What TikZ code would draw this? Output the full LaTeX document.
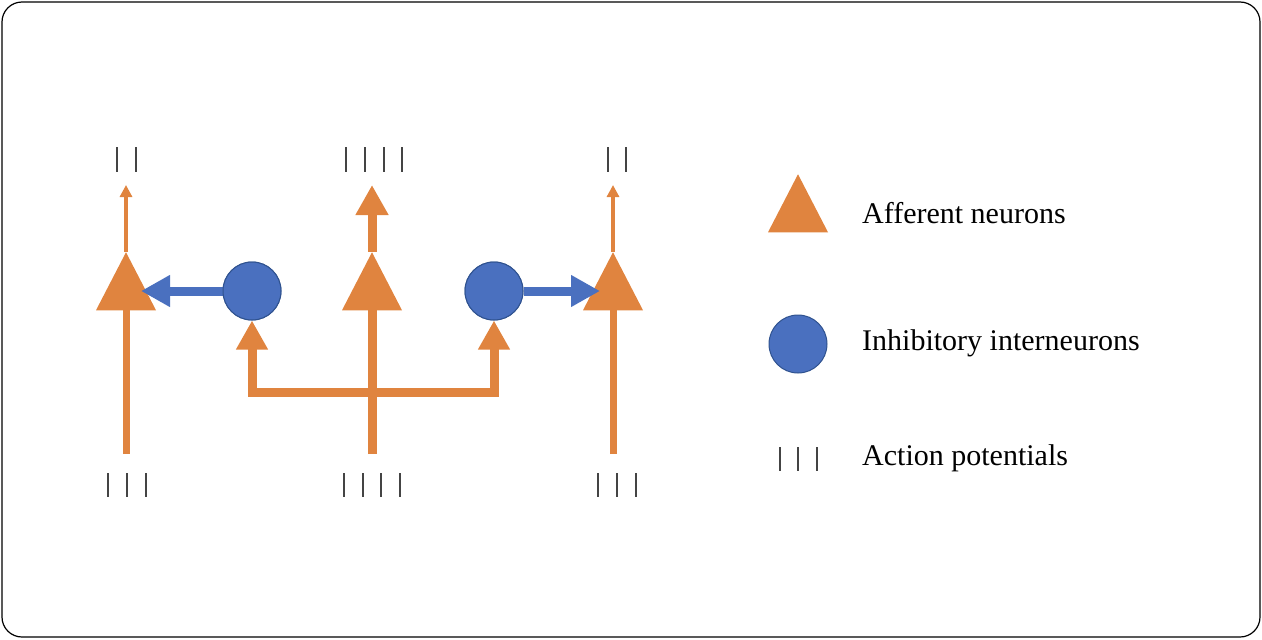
\documentclass[tikz,border=0pt]{standalone}
\usepackage{fontspec}
\setmainfont{Liberation Serif}
\usetikzlibrary{arrows.meta,shapes.geometric}
\definecolor{org}{HTML}{E0843F}
\definecolor{blu}{HTML}{4A70BF}
\definecolor{bld}{HTML}{2F528F}
\definecolor{tk}{HTML}{444444}
\begin{document}
\begin{tikzpicture}[x=1pt,y=-1pt,
  tri/.style={fill=org,draw=none,isosceles triangle,isosceles triangle stretches,shape border rotate=90,minimum height=58pt,minimum width=60pt,inner sep=0pt},
  inh/.style={circle,fill=blu,draw=bld,line width=1pt,minimum size=58pt,inner sep=0pt},
  ax/.style={draw=org,line width=7pt},
  thinax/.style={draw=org,line width=3.5pt,-{Triangle[length=12pt,width=12pt]}},
  thickax/.style={draw=org,line width=9pt,-{Triangle[length=30pt,width=31pt]}},
  brax/.style={draw=org,line width=9pt,-{Triangle[length=29pt,width=30pt]}},
  inhax/.style={draw=blu,line width=9pt,-{Triangle[length=29pt,width=30pt]}},
  tick/.style={draw=tk,line width=2.8pt},
  lab/.style={anchor=west,font=\fontsize{30}{36}\selectfont,inner sep=0pt}]
\useasboundingbox (0,0) rectangle (1262,640);
\draw[line width=1.2pt,rounded corners=20pt] (2,2) rectangle (1260,637);
% afferent triangles
\node[tri] (t1) at (126,292) {};
\node[tri] (t2) at (372,292) {};
\node[tri] (t3) at (613,292) {};
\node[inh] (c1) at (252,291) {};
\node[inh] (c2) at (494,291) {};
% coordinates
\coordinate (b1) at (126,454);
\coordinate (b2) at (372,454);
\coordinate (b3) at (613,454);
\coordinate (u1) at (126,185);
\coordinate (u2) at (372,185);
\coordinate (u3) at (613,185);
\coordinate (j) at (372,392);
% lower axons
\draw[ax] (b1) -- (t1.south);
\draw[ax] (b3) -- (t3.south);
\draw[draw=org,line width=9pt] (b2) -- (t2.south);
% upper axons
\draw[thinax] (t1.apex) -- (u1);
\draw[thinax] (t3.apex) -- (u3);
\draw[thickax] (t2.apex) -- (u2);
% branch
\draw[brax] (j) -| (c1.south);
\draw[brax] (j) -| (c2.south);
% inhibitory
\draw[inhax] (c1.west) -- (141,291);
\draw[inhax] (c2.east) -- (600,291);
\node[inh] at (252,291) {};
\node[inh] at (494,291) {};
% ticks
\foreach \x in {117,136,608,626} \draw[tick] (\x,147) -- (\x,172);
\foreach \x in {346,365,384,402} \draw[tick] (\x,147) -- (\x,172);
\foreach \x in {108,127,146,344,363,381,400,598,617,636} \draw[tick] (\x,473) -- (\x,497);
% legend
\node[tri] (lt) at (798,214) {};
\node[inh] (lc) at (798,344) {};
\foreach \x in {780,798,817} \draw[tick] (\x,447) -- (\x,471);
\node[lab] (l1) at (862,213) {Afferent neurons};
\node[lab] (l2) at (862,343) {Inhibitory interneurons};
\node[lab] (l3) at (862,458) {Action potentials};
\end{tikzpicture}
\end{document}
